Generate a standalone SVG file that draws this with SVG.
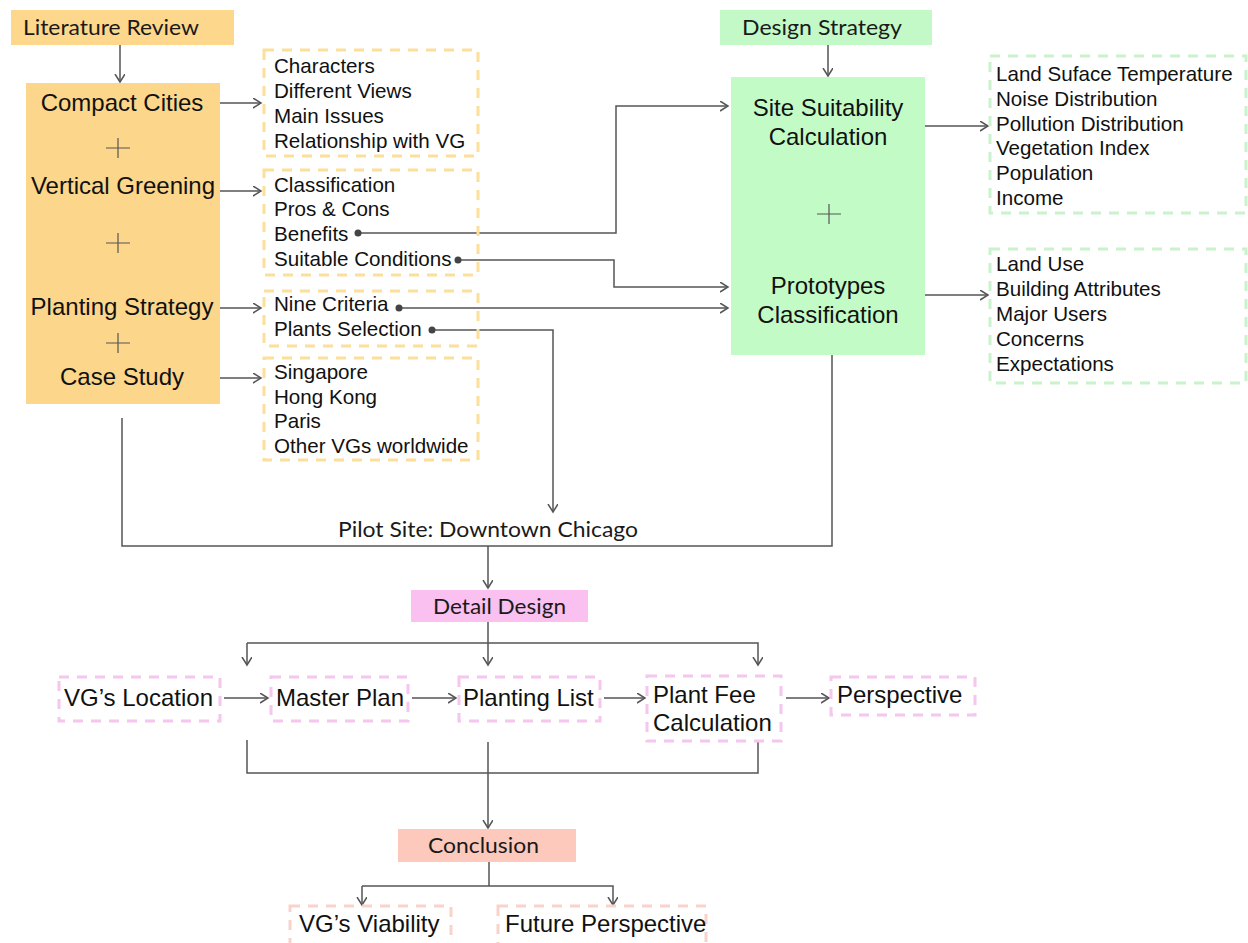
<svg xmlns="http://www.w3.org/2000/svg" width="1248" height="943" viewBox="0 0 1248 943">
<style>
.hd{font-family:Lato,"Open Sans",sans-serif;font-size:21px;fill:#1a1a1a}
.big{font-family:"Liberation Sans",Arial,sans-serif;font-size:24px;fill:#111}
.lst{font-family:"Liberation Sans",Arial,sans-serif;font-size:20.6px;fill:#111}
.mid{font-family:"Liberation Sans",Arial,sans-serif;font-size:24px;fill:#111}
.c{stroke:#555;stroke-width:1.5;fill:none}
.a{marker-end:url(#arr)}
.plus{stroke:#555;stroke-width:1.2}
.od{fill:none;stroke:#fbdf9a;stroke-width:3;stroke-dasharray:10 8}
.gd{fill:none;stroke:#c9f2cd;stroke-width:3;stroke-dasharray:10 8}
.pd{fill:none;stroke:#f5c6ee;stroke-width:3;stroke-dasharray:10 8}
.rd{fill:none;stroke:#f9d2ca;stroke-width:3;stroke-dasharray:10 8}
</style>
<defs>
<marker id="arr" markerUnits="userSpaceOnUse" markerWidth="12" markerHeight="12" refX="8" refY="5" orient="auto">
<path d="M0,0 L8,5 L0,10" fill="none" stroke="#555" stroke-width="1.5"/>
</marker>
</defs>
<rect width="1248" height="943" fill="#fff"/>

<g id="connectors">
<path class="c a" d="M120,45 V82"/>
<path class="c a" d="M828,45 V76"/>
<path class="c a" d="M220,103 H261"/>
<path class="c a" d="M218,191 H261"/>
<path class="c a" d="M220,308 H261"/>
<path class="c a" d="M220,378 H261"/>
<path class="c a" d="M925,126 H988"/>
<path class="c a" d="M925,295 H988"/>
<path class="c a" d="M358,233 H616 V106 H728"/>
<path class="c a" d="M458,260 H614 V287 H728"/>
<path class="c a" d="M399,308 H728"/>
<path class="c a" d="M432,330 H553 V512"/>
<path class="c" d="M832,355 V546 H122 V418"/>
<path class="c a" d="M488,546 V588"/>
<path class="c" d="M488,622 V643"/>
<path class="c a" d="M247,643 V665"/>
<path class="c a" d="M488,643 V665"/>
<path class="c a" d="M247,643 H758 V665"/>
<path class="c a" d="M224,698 H268"/>
<path class="c a" d="M412,698 H456"/>
<path class="c a" d="M604,698 H645"/>
<path class="c a" d="M786,698 H829"/>
<path class="c" d="M247,740 V773 H758 V742"/>
<path class="c a" d="M488,742 V828"/>
<path class="c" d="M489,862 V886"/>
<path class="c a" d="M362,886 V905"/>
<path class="c a" d="M362,886 H613 V905"/>
<circle cx="358" cy="233" r="3.5" fill="#444"/>
<circle cx="458" cy="260" r="3.5" fill="#444"/>
<circle cx="399" cy="308" r="3.5" fill="#444"/>
<circle cx="432" cy="330" r="3.5" fill="#444"/>
</g>

<g id="literature-review">
<rect x="11" y="10" width="223" height="35" fill="#fdd88c"/>
<text class="hd" x="23" y="35" textLength="176" lengthAdjust="spacingAndGlyphs">Literature Review</text>
</g>

<g id="literature-topics">
<rect x="26" y="83" width="194" height="321" fill="#fcd68b"/>
<text class="big" x="122" y="111" text-anchor="middle">Compact Cities</text>
<path class="plus" d="M106,148 H130 M118,138 V158"/>
<text class="big" x="123" y="194" text-anchor="middle">Vertical Greening</text>
<path class="plus" d="M106,243 H130 M118,233 V253"/>
<text class="big" x="122" y="315" text-anchor="middle">Planting Strategy</text>
<path class="plus" d="M106,343 H130 M118,333 V353"/>
<text class="big" x="122" y="385" text-anchor="middle">Case Study</text>
</g>

<g id="compact-cities-list">
<rect class="od" x="264" y="50" width="214" height="106"/>
<text class="lst" x="274" y="73">Characters</text>
<text class="lst" x="274" y="98">Different Views</text>
<text class="lst" x="274" y="123">Main Issues</text>
<text class="lst" x="274" y="148">Relationship with VG</text>
</g>

<g id="vertical-greening-list">
<rect class="od" x="264" y="170" width="214" height="105"/>
<text class="lst" x="274" y="192">Classification</text>
<text class="lst" x="274" y="216">Pros &amp; Cons</text>
<text class="lst" x="274" y="241">Benefits</text>
<text class="lst" x="274" y="266">Suitable Conditions</text>
</g>

<g id="planting-strategy-list">
<rect class="od" x="264" y="291" width="214" height="55"/>
<text class="lst" x="274" y="311">Nine Criteria</text>
<text class="lst" x="274" y="336">Plants Selection</text>
</g>

<g id="case-study-list">
<rect class="od" x="264" y="358" width="214" height="102"/>
<text class="lst" x="274" y="379">Singapore</text>
<text class="lst" x="274" y="404">Hong Kong</text>
<text class="lst" x="274" y="428">Paris</text>
<text class="lst" x="274" y="453">Other VGs worldwide</text>
</g>

<g id="design-strategy">
<rect x="720" y="10" width="212" height="35" fill="#c3f9c6"/>
<text class="hd" x="742" y="35" textLength="160" lengthAdjust="spacingAndGlyphs">Design Strategy</text>
</g>

<g id="design-topics">
<rect x="731" y="77" width="194" height="278" fill="#c3fbc6"/>
<text class="big" x="828" y="116" text-anchor="middle">Site Suitability</text>
<text class="big" x="828" y="145" text-anchor="middle">Calculation</text>
<path class="plus" d="M817,214 H841 M829,204 V224"/>
<text class="big" x="828" y="294" text-anchor="middle">Prototypes</text>
<text class="big" x="828" y="323" text-anchor="middle">Classification</text>
</g>

<g id="site-suitability-list">
<rect class="gd" x="990" y="56" width="256" height="157"/>
<text class="lst" x="996" y="81">Land Suface Temperature</text>
<text class="lst" x="996" y="106">Noise Distribution</text>
<text class="lst" x="996" y="131">Pollution Distribution</text>
<text class="lst" x="996" y="155">Vegetation Index</text>
<text class="lst" x="996" y="180">Population</text>
<text class="lst" x="996" y="205">Income</text>
</g>

<g id="prototypes-list">
<rect class="gd" x="990" y="249" width="256" height="134"/>
<text class="lst" x="996" y="271">Land Use</text>
<text class="lst" x="996" y="296">Building Attributes</text>
<text class="lst" x="996" y="321">Major Users</text>
<text class="lst" x="996" y="346">Concerns</text>
<text class="lst" x="996" y="371">Expectations</text>
</g>

<g id="pilot-site">
<text class="hd" x="338" y="537" font-size="22" textLength="300" lengthAdjust="spacingAndGlyphs">Pilot Site: Downtown Chicago</text>
</g>

<g id="detail-design">
<rect x="411" y="590" width="177" height="32" fill="#f9c0f0"/>
<text class="hd" x="433" y="614" textLength="133" lengthAdjust="spacingAndGlyphs">Detail Design</text>
</g>

<g id="vg-location">
<rect class="pd" x="59" y="677" width="161" height="44"/>
<text class="mid" x="64" y="706">VG’s Location</text>
</g>
<g id="master-plan">
<rect class="pd" x="271" y="677" width="137" height="44"/>
<text class="mid" x="276" y="706">Master Plan</text>
</g>
<g id="planting-list">
<rect class="pd" x="459" y="677" width="141" height="44"/>
<text class="mid" x="463" y="706">Planting List</text>
</g>
<g id="plant-fee">
<rect class="pd" x="647" y="676" width="134" height="65"/>
<text class="mid" x="653" y="703">Plant Fee</text>
<text class="mid" x="653" y="731">Calculation</text>
</g>
<g id="perspective">
<rect class="pd" x="831" y="677" width="144" height="38"/>
<text class="mid" x="837" y="703">Perspective</text>
</g>

<g id="conclusion">
<rect x="398" y="829" width="178" height="33" fill="#fcc9bc"/>
<text class="hd" x="428" y="853" textLength="111" lengthAdjust="spacingAndGlyphs">Conclusion</text>
</g>

<g id="vg-viability">
<rect class="rd" x="290" y="906" width="161" height="40"/>
<text class="mid" x="299" y="932">VG’s Viability</text>
</g>
<g id="future-perspective">
<rect class="rd" x="498" y="906" width="208" height="40"/>
<text class="mid" x="505" y="932">Future Perspective</text>
</g>
</svg>
